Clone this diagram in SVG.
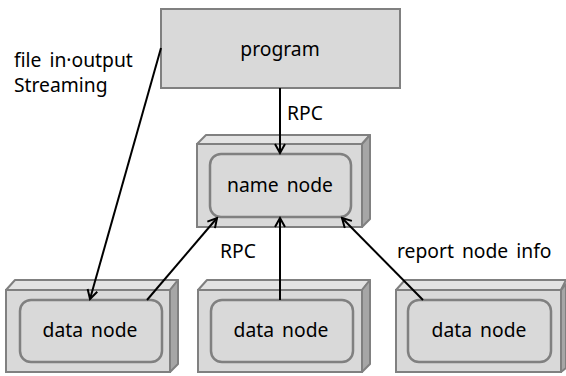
<svg xmlns="http://www.w3.org/2000/svg" width="566" height="376" viewBox="0 0 566 376">
<defs>
<style>
.box{fill:#d9d9d9;stroke:#808080;stroke-width:2}
.front{fill:#d9d9d9;stroke:#808080;stroke-width:2}
.top{fill:#e3e3e3;stroke:#808080;stroke-width:2;stroke-linejoin:round}
.side{fill:#a6a6a6;stroke:#808080;stroke-width:2;stroke-linejoin:round}
.inner{fill:#d9d9d9;stroke:#808080;stroke-width:2.5}
text{font-family:"Noto Sans","Open Sans",sans-serif;font-size:19.3px;fill:#000;word-spacing:3px}
.c{text-anchor:middle}
.conn line{stroke:#000;stroke-width:2}
</style>
<marker id="ah" viewBox="0 0 12 12" refX="10" refY="6" markerWidth="12" markerHeight="12" markerUnits="userSpaceOnUse" orient="auto">
<path d="M1,1 L10,6 L1,11" fill="none" stroke="#000" stroke-width="2"/>
</marker>
</defs>
<rect width="566" height="376" fill="#fff"/>
<g id="program">
<rect class="box" x="161" y="9" width="239" height="79"/>
<text class="c" x="280" y="56">program</text>
</g>
<g id="namenode">
<polygon class="top" points="197,144 206,135 370,135 362,144"/>
<polygon class="side" points="362,144 370,135 370,219 362,227"/>
<rect class="front" x="197" y="144" width="165" height="83"/>
<rect class="inner" x="210" y="154" width="141" height="63" rx="11"/>
<text class="c" x="280" y="192">name node</text>
</g>
<g id="datanode1">
<polygon class="top" points="6,290 15,280 178,280 170,290"/>
<polygon class="side" points="170,290 178,280 178,364 170,372"/>
<rect class="front" x="6" y="290" width="164" height="82"/>
<rect class="inner" x="20" y="300" width="142" height="62" rx="11"/>
<text class="c" x="90" y="337">data node</text>
</g>
<g id="datanode2">
<polygon class="top" points="198,290 207,280 370,280 362,290"/>
<polygon class="side" points="362,290 370,280 370,364 362,372"/>
<rect class="front" x="198" y="290" width="164" height="82"/>
<rect class="inner" x="211" y="300" width="142" height="62" rx="11"/>
<text class="c" x="281" y="337">data node</text>
</g>
<g id="datanode3">
<polygon class="top" points="396,290 405,280 566,280 561,290"/>
<polygon class="side" points="561,290 566,284 566,368 561,372"/>
<rect class="front" x="396" y="290" width="165" height="82"/>
<rect class="inner" x="408" y="300" width="143" height="62" rx="11"/>
<text class="c" x="479" y="337">data node</text>
</g>
<g id="labels">
<text x="14" y="67">file in·output</text>
<text x="14" y="92">Streaming</text>
<text x="287" y="120">RPC</text>
<text x="220" y="258">RPC</text>
<text x="397" y="258">report node info</text>
</g>
<g class="conn">
<line x1="280" y1="88" x2="280" y2="153" marker-end="url(#ah)"/>
<line x1="161" y1="48" x2="90" y2="299" marker-end="url(#ah)"/>
<line x1="147" y1="300" x2="217" y2="218" marker-end="url(#ah)"/>
<line x1="280" y1="300" x2="280" y2="218" marker-end="url(#ah)"/>
<line x1="423" y1="300" x2="342" y2="218" marker-end="url(#ah)"/>
</g>
</svg>
